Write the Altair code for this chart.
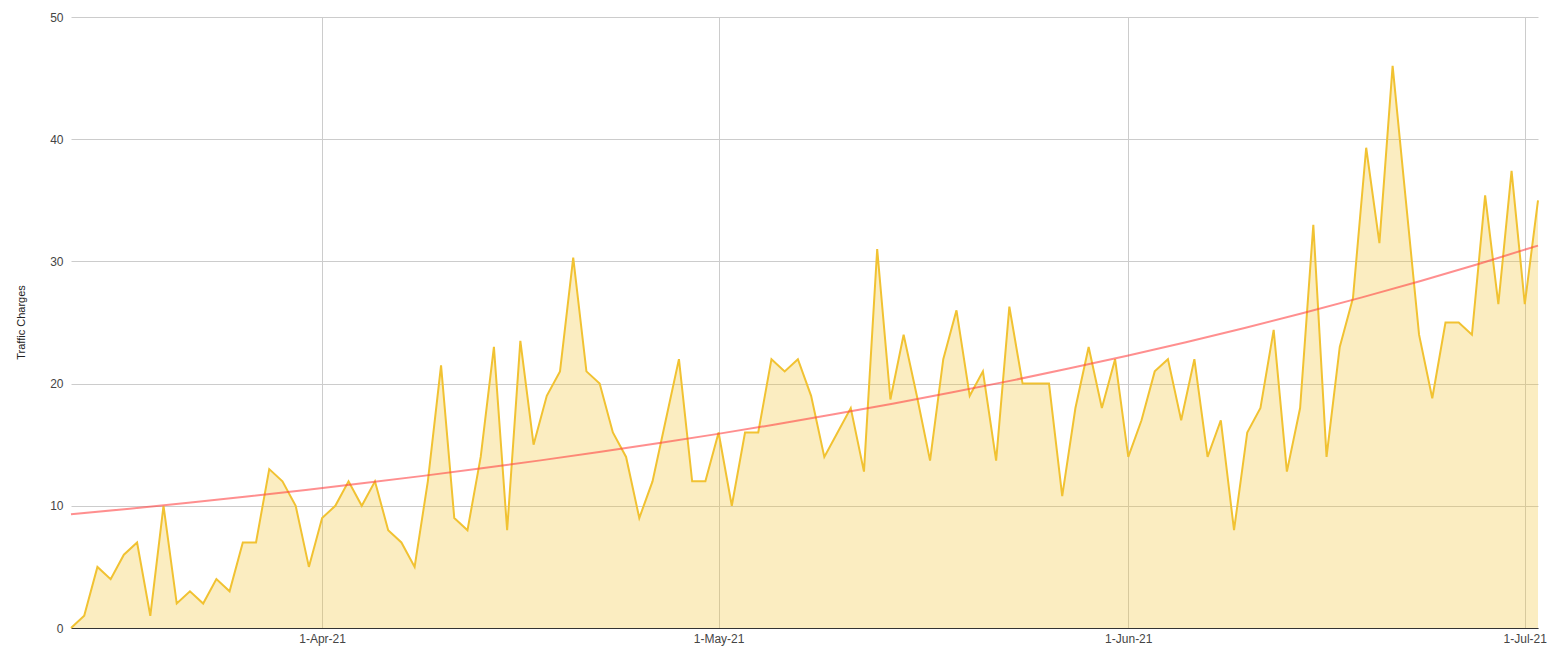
import altair as alt
import pandas as pd

start_date = "2021-03-13"
charges = [
    0, 1, 5, 4, 6, 7, 1, 10, 2, 3, 2, 4, 3, 7, 7, 13, 12, 10, 5, 9,
    10, 12, 10, 12, 8, 7, 5, 12, 21.5, 9, 8, 14, 23, 8, 23.5, 15, 19, 21, 30.3, 21,
    20, 16, 14, 9, 12, 17, 22, 12, 12, 16, 10, 16, 16, 22, 21, 22, 19, 14, 16, 18,
    12.8, 31, 18.7, 24, 19, 13.7, 22, 26, 19, 21, 13.7, 26.3, 20, 20, 20, 10.8, 18, 23, 18, 22,
    14, 17, 21, 22, 17, 22, 14, 17, 8, 16, 18, 24.4, 12.8, 18, 33, 14, 23, 27, 39.3, 31.5,
    46, 35, 24, 18.8, 25, 25, 24, 35.4, 26.5, 37.4, 26.5, 35,
]
month_ticks = [4, 5, 6, 7]
y_ticks = [0, 10, 20, 30, 40, 50]
y_title = "Traffic Charges"

dates = pd.date_range(start_date, periods=len(charges), freq="D")
df = pd.DataFrame({"date": dates.strftime("%Y-%m-%d"), "charges": charges})
ms0 = int(dates[0].tz_localize("UTC").value // 10**6)
ms1 = int(dates[-1].tz_localize("UTC").value // 10**6)

font = "Liberation Sans"

x_enc = alt.X(
    "date:T",
    title=None,
    scale=alt.Scale(type="utc", nice=False),
    axis=alt.Axis(
        values=[alt.DateTime(year=2021, month=m, date=1, utc=True) for m in month_ticks],
        format="%-d-%b-%y",
        grid=True,
        gridColor="#cccccc",
        gridWidth=1,
        ticks=False,
        domain=True,
        domainColor="#333333",
        domainWidth=1,
        labelFont=font,
        labelFontSize=12,
        labelColor="#444444",
        labelPadding=5,
    ),
)
y_enc = alt.Y(
    "charges:Q",
    scale=alt.Scale(domain=[0, 50], nice=False, zero=True),
    axis=alt.Axis(
        values=y_ticks,
        grid=True,
        gridColor="#cccccc",
        gridWidth=1,
        ticks=False,
        domain=False,
        labelFont=font,
        labelFontSize=12,
        labelColor="#444444",
        labelPadding=8,
        title=y_title,
        titleFont=font,
        titleFontSize=11,
        titleFontWeight="normal",
        titleColor="#222222",
        titleX=-47,
        titleY=305,
        titleAngle=270,
        titleAlign="center",
        titleBaseline="alphabetic",
    ),
)

base = alt.Chart(df)
area = base.mark_area(color="#F1C232", opacity=0.3).encode(x=x_enc, y=y_enc)
line = base.mark_line(color="#F1C232", strokeWidth=2).encode(x=x_enc, y=y_enc)
trend = (
    base.transform_filter("datum.charges > 0")
    .transform_regression("date", "charges", method="exp", extent=[ms0, ms1])
    .mark_line(color="#FF4444", opacity=0.6, strokeWidth=2)
    .encode(x=x_enc, y=y_enc)
)

chart = (
    alt.layer(area, line, trend)
    .properties(
        width=1467,
        height=611,
        autosize=alt.AutoSizeParams(type="none"),
        padding={"left": 63, "top": 9, "right": 12, "bottom": 25},
    )
    .configure_view(stroke=None)
)

chart.save("out.html", embed_options={"renderer": "svg", "actions": False})
